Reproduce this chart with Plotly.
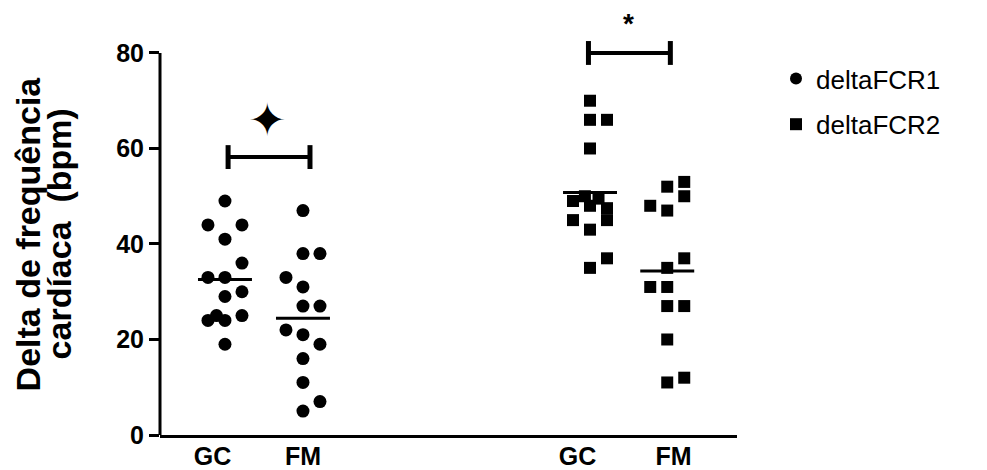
import numpy as np
import plotly.graph_objects as go

# ---- data ----
categories = ["GC", "FM", "GC", "FM"]
cat_pos = [1.0, 2.0, 5.68, 6.67]

gc1_vals = [49, 44, 44, 41, 36, 33, 33, 30, 29, 24, 25, 24, 25, 19]
gc1_slot = [0, -1, 1, 0, 1, -1, 0, 1, 0, -1, -0.5, 0, 1, 0]
fm1_vals = [47, 38, 38, 33, 31, 27, 27, 22, 21, 19, 16, 11, 7, 5]
fm1_slot = [0, 0, 1, -1, 0, 0, 1, -1, 0, 1, 0, 0, 1, 0]
gc2_vals = [70, 66, 66, 60, 49, 50, 49.5, 48, 47.5, 45, 45, 43, 37, 35]
gc2_slot = [0, 0, 1, 0, -1, -0.3, 0.5, 0, 1, -1, 1, 0, 1, 0]
fm2_vals = [53, 52, 50, 48, 47, 37, 35, 31, 31, 27, 27, 20, 12, 11]
fm2_slot = [1, 0, 1, -1, 0, 1, 0, -1, 0, 0, 1, 0, 1, 0]

series_names = ["deltaFCR1", "deltaFCR2"]
bracket1_y = 58.2
bracket2_y = 80
y_ticks = [0, 20, 40, 60, 80]
y_title = ["Delta de frequência", "cardíaca \u00a0(bpm)"]

# ---- layout constants ----
JIT = 0.218
HALF = 0.346
FONT = "Liberation Sans"
PW = 577  # plot width px
EN = "\u2002"
# visual padding so labels sit where the original places them
label_pad = [("", EN * 2), ("", ""), ("", EN * 2), (EN, "")]
tick_text = [a + c + b for c, (a, b) in zip(categories, label_pad)]

def xs(pos, slots):
    return [pos + s * JIT for s in slots]

fig = go.Figure()
fig.add_trace(go.Scatter(
    x=xs(cat_pos[0], gc1_slot) + xs(cat_pos[1], fm1_slot),
    y=gc1_vals + fm1_vals, mode="markers", name=series_names[0],
    legendgroup="a",
    marker=dict(symbol="circle", size=13, color="black"), cliponaxis=False))
fig.add_trace(go.Scatter(
    x=xs(cat_pos[2], gc2_slot) + xs(cat_pos[3], fm2_slot),
    y=gc2_vals + fm2_vals, mode="markers", name=series_names[1],
    legendgroup="b",
    marker=dict(symbol="square", size=12, color="black"), cliponaxis=False))

shapes = []
for p, v in zip(cat_pos, [gc1_vals, fm1_vals, gc2_vals, fm2_vals]):
    m = float(np.mean(v))
    shapes.append(dict(type="line", x0=p - HALF, x1=p + HALF, y0=m, y1=m,
                       line=dict(color="black", width=3)))

def bracket(x0, x1, y):
    out = [dict(type="line", x0=x0, x1=x1, y0=y, y1=y, line=dict(color="black", width=4))]
    for xx in (x0, x1):
        out.append(dict(type="line", x0=xx, x1=xx, y0=y - 2.5, y1=y + 2.5,
                        line=dict(color="black", width=5)))
    return out

shapes += bracket(cat_pos[0] + 0.04, cat_pos[1] + 0.09, bracket1_y)
shapes += bracket(cat_pos[2] - 0.02, cat_pos[3] + 0.04, bracket2_y)
# y axis line only up to 80
shapes.append(dict(type="line", xref="paper", x0=0, x1=0, yref="y", y0=0, y1=80,
                   line=dict(color="black", width=3)))

annotations = [
    dict(x=(cat_pos[0] + cat_pos[1]) / 2 + 0.05, y=66, xref="x", yref="y", text="✦",
         showarrow=False, font=dict(family="DejaVu Sans", size=46, color="black"),
         xanchor="center", yanchor="middle"),
    dict(x=(cat_pos[2] + cat_pos[3]) / 2, y=86.2, xref="x", yref="y", text="*",
         showarrow=False, font=dict(family=FONT, size=28, color="black", weight="bold"),
         xanchor="center", yanchor="middle"),
    dict(x=-132 / PW, y=0.472, xref="paper", yref="paper",
         text=y_title[0], textangle=-90,
         showarrow=False, font=dict(family=FONT, size=34, color="black", weight="bold"),
         xanchor="center", yanchor="middle"),
    dict(x=-101 / PW, y=0.472, xref="paper", yref="paper",
         text=y_title[1], textangle=-90,
         showarrow=False, font=dict(family=FONT, size=34, color="black", weight="bold"),
         xanchor="center", yanchor="middle"),
]

fig.update_layout(
    width=979, height=462,
    margin=dict(l=152, r=250, t=2, b=35, autoexpand=False),
    paper_bgcolor="white", plot_bgcolor="white",
    shapes=shapes, annotations=annotations,
    showlegend=True,
    legend=dict(x=616 / PW, y=(425 - 45) / 425, xanchor="left", yanchor="top",
                font=dict(family=FONT, size=26, color="black"),
                tracegroupgap=9, traceorder="grouped", itemsizing="constant"),
    xaxis=dict(range=[0.167, 0.167 + PW / 78], tickvals=cat_pos, ticktext=tick_text,
               showline=True, linecolor="black", linewidth=3, ticks="",
               showgrid=False, zeroline=False, automargin=False, ticklabelstandoff=-3,
               tickfont=dict(family=FONT, size=25, color="black", weight="bold")),
    yaxis=dict(range=[0, 89.0], tickvals=y_ticks, showline=False, ticks="outside",
               ticklen=10, tickwidth=3, tickcolor="black", showgrid=False, zeroline=False,
               automargin=False,
               tickfont=dict(family=FONT, size=25, color="black", weight="bold")),
)

fig.write_html("out.html")
